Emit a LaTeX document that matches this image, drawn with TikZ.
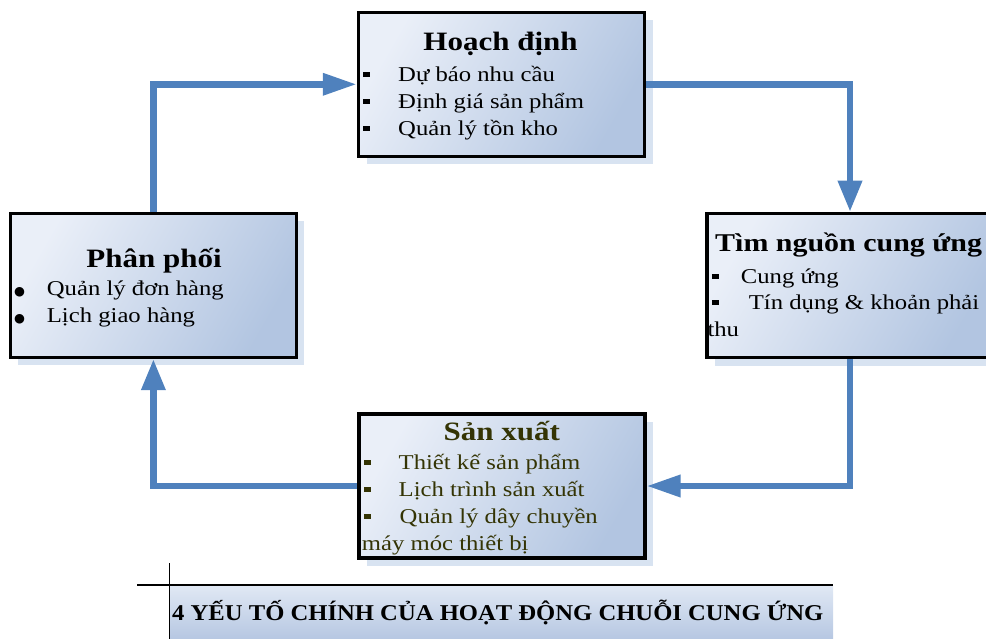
\documentclass[tikz,border=0pt]{standalone}
\usepackage{fontspec}
\setmainfont{Liberation Serif}[FakeStretch=1.17]
\newfontfamily\capfont{Liberation Serif}[FakeStretch=1.09]
\newfontfamily\symfont{DejaVu Sans}
\usetikzlibrary{arrows.meta,shadows}
\definecolor{boxL}{RGB}{234,239,248}
\definecolor{boxR}{RGB}{178,197,225}
\definecolor{capT}{RGB}{224,232,244}
\definecolor{capB}{RGB}{182,199,226}
\definecolor{shadowc}{RGB}{216,227,241}
\definecolor{arrowc}{RGB}{79,129,189}
\definecolor{textolive}{RGB}{52,52,4}
\newcommand{\sqb}[1]{\makebox[#1][l]{\rule[4.5pt]{7pt}{5pt}}}
\newcommand{\rdb}[1]{\makebox[#1][l]{{\symfont\fontsize{12.5}{12}\selectfont ●}}}
\tikzset{
  box/.style={draw=black, line width=3.5pt, minimum width=286pt, minimum height=144pt,
    inner sep=0pt, top color=boxL, bottom color=boxR, shading angle=60,
    general shadow={fill=shadowc, shadow xshift=8pt, shadow yshift=-8pt}},
  item/.style={inner sep=0pt, anchor=base west, font=\fontsize{21.1}{24}\selectfont},
  ttl/.style={inner sep=0pt, anchor=base, font=\bfseries\fontsize{26.5}{30}\selectfont},
  conn/.style={draw=arrowc, line width=6.5pt},
  hhead/.style={-{Triangle[length=34pt,width=21pt]}},
  vhead/.style={-{Triangle[length=31pt,width=23pt]}},
  thinline/.style={draw=black, line width=1.2pt}
}
\begin{document}
\begin{tikzpicture}[x=1pt,y=-1pt]
\useasboundingbox (0,0) rectangle (986,639);
\clip (0,0) rectangle (986,639);

% caption area
\fill[top color=capT, bottom color=capB] (170,586) rectangle (833,639);
\draw[thinline] (137,585) -- (833,585);
\draw[thinline] (169.5,563) -- (169.5,639);
\node[inner sep=0pt, anchor=base west, font=\capfont\bfseries\fontsize{22.6}{26}\selectfont] (cap) at (172,620) {4 YẾU TỐ CHÍNH CỦA HOẠT ĐỘNG CHUỖI CUNG ỨNG};

% boxes
\node[box] (H) at (501.5,84.3) {};
\node[box] (T) at (850,285.5) {};
\node[box] (S) at (501.8,486) {};
\node[box] (P) at (153.4,285.4) {};

% Hoach dinh
\node[ttl] (Ht) at (500.5,51) {Hoạch định};
\node[item] (H1) at (363,82) {\sqb{35pt}Dự báo nhu cầu};
\node[item] (H2) at (363,109) {\sqb{35pt}Định giá sản phẩm};
\node[item] (H3) at (363,136) {\sqb{35pt}Quản lý tồn kho};

% Tim nguon cung ung
\node[ttl, anchor=base west, font=\bfseries\fontsize{25.6}{30}\selectfont] (Tt) at (715,252) {Tìm nguồn cung ứng};
\node[item] (T1) at (711.7,284) {\sqb{29pt}Cung ứng};
\node[item] (T2) at (711.7,310) {\sqb{37pt}Tín dụng \& khoản phải};
\node[item] (T3) at (707.3,336) {thu};

% San xuat
\node[ttl, text=textolive] (St) at (501.7,440) {Sản xuất};
\node[item, text=textolive] (S1) at (364,469) {\sqb{34.5pt}Thiết kế sản phẩm};
\node[item, text=textolive] (S2) at (364,496) {\sqb{34.5pt}Lịch trình sản xuất};
\node[item, text=textolive] (S3) at (364,523) {\sqb{35.5pt}Quản lý dây chuyền};
\node[item, text=textolive] (S4) at (361.7,550) {máy móc thiết bị};

% Phan phoi
\node[ttl] (Pt) at (154,268) {Phân phối};
\node[item] (P1) at (14,296) {\rdb{32.7pt}Quản lý đơn hàng};
\node[item] (P2) at (14,322.5) {\rdb{32.7pt}Lịch giao hàng};

% connectors
\draw[conn, hhead] (P.north) |- (H.west);
\draw[conn, vhead] (H.east) -| (T.north);
\draw[conn, hhead] (T.south) |- (S.east);
\draw[conn, vhead] (S.west) -| (P.south);
\end{tikzpicture}
\end{document}
